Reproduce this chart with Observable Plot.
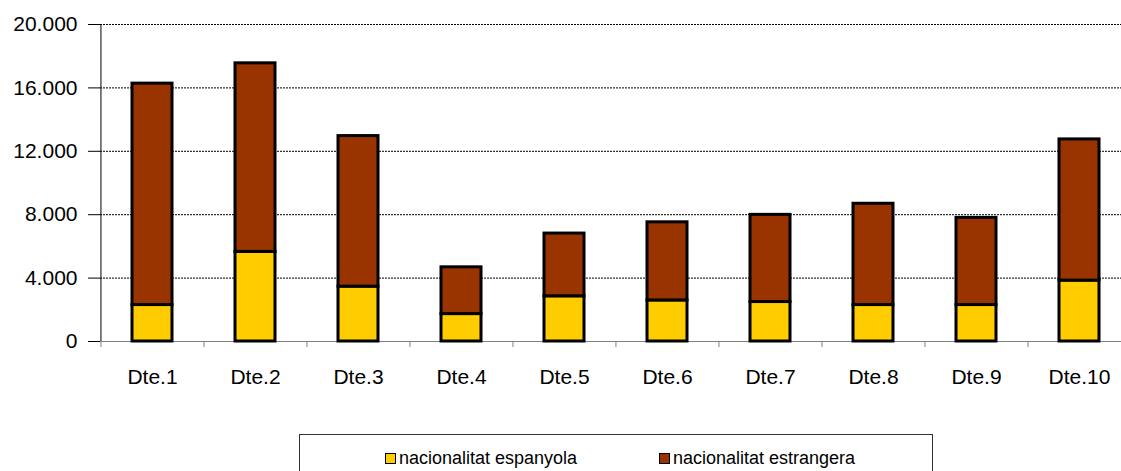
<!DOCTYPE html>
<html><head><meta charset="utf-8">
<script src="https://cdn.jsdelivr.net/npm/d3@7"></script>
<script src="https://cdn.jsdelivr.net/npm/@observablehq/plot@0.6"></script>
<style>
html,body{margin:0;padding:0;background:#fff;}
body{font-family:"Liberation Sans",Arial,sans-serif;width:1121px;height:471px;overflow:hidden;position:relative;}
#chart svg{display:block;}
#legend{position:absolute;left:299px;top:434px;box-sizing:border-box;width:634px;height:60px;border:1px solid #333;
  font-size:18px;line-height:20px;color:#000;}
#legend .item{position:absolute;top:13px;display:flex;align-items:center;white-space:nowrap;}
#legend .sw{display:inline-block;width:9px;height:9px;border:1.5px solid #000;margin-right:3px;}
</style></head><body>
<div id="chart"></div>
<div id="legend"></div>
<script>
const districts = ["Dte.1","Dte.2","Dte.3","Dte.4","Dte.5","Dte.6","Dte.7","Dte.8","Dte.9","Dte.10"];
const seriesNames = ["nacionalitat espanyola","nacionalitat estrangera"];
const seriesColors = ["#FFCC00","#993300"];
const espanyola  = [2300, 5650, 3460, 1730, 2850, 2590, 2490, 2300, 2300, 3840];
const estrangera = [13970, 11900, 9500, 2950, 3960, 4930, 5500, 6390, 5500, 8910];
const yTicks = [0, 4000, 8000, 12000, 16000, 20000];

const rows = [];
districts.forEach((d, i) => {
  rows.push({district: d, series: seriesNames[0], value: espanyola[i]});
  rows.push({district: d, series: seriesNames[1], value: estrangera[i]});
});

const fmt = d3.formatLocale({decimal: ",", thousands: ".", grouping: [3], currency: ["", ""]}).format(",");
const xRange = [100, 1131];
const step = (xRange[1] - xRange[0]) / districts.length;

const chart = Plot.plot({
  width: 1121,
  height: 400,
  marginTop: 24,
  marginBottom: 59,
  marginLeft: 100,
  marginRight: 0,
  style: {fontFamily: "'Liberation Sans', Arial, sans-serif", color: "#000", background: "#fff"},
  x: {domain: districts, range: xRange, paddingInner: 0.612, paddingOuter: 0.306, label: null},
  y: {domain: [0, 20000], label: null},
  color: {domain: seriesNames, range: seriesColors},
  marks: [
    Plot.gridY(yTicks, {stroke: "#000", strokeOpacity: 1, strokeDasharray: "2,1"}),
    Plot.ruleY([0], {stroke: "#808080", strokeWidth: 1}),
    Plot.ruleX(districts, {x: d => d, dx: -step / 2, insetTop: 317, insetBottom: -6, stroke: "#808080"}),
    Plot.ruleX([districts[0]], {x: d => d, dx: -step / 2, stroke: "#000"}),
    Plot.barY(rows, {x: "district", y: "value", fill: "series", stroke: "#000", strokeWidth: 3}),
    Plot.axisY(yTicks, {tickSize: 12, tickPadding: 11, tickFormat: fmt, fontSize: 21, label: null}),
    Plot.axisX({tickSize: 0, tickPadding: 28, fontSize: 21, label: null})
  ]
});
document.getElementById("chart").appendChild(chart);

const legend = document.getElementById("legend");
const itemLeft = [85, 359];
seriesNames.forEach((name, i) => {
  const item = document.createElement("div");
  item.className = "item";
  item.style.left = itemLeft[i] + "px";
  const sw = document.createElement("span");
  sw.className = "sw";
  sw.style.background = seriesColors[i];
  const t = document.createElement("span");
  t.textContent = name;
  item.appendChild(sw);
  item.appendChild(t);
  legend.appendChild(item);
});
</script>
</body></html>
